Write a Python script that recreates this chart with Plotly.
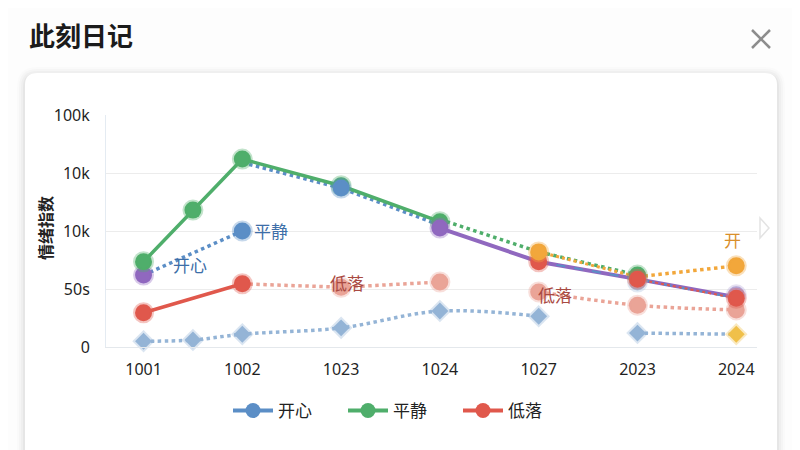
import plotly.graph_objects as go

# ---- data ----
categories = ["1001", "1002", "1023", "1024", "1027", "2023", "2024"]
y_tick_text = ["0", "50s", "10k", "10k", "100k"]

# 平静 (solid green) + dotted tail
calm_x = [0, 0.5, 1, 2, 3]
calm_y = [1.47, 2.36, 3.24, 2.78, 2.16]
calm_tail_x = [3, 4, 5]
calm_tail_y = [2.2, 1.64, 1.24]

# 开心 (blue dotted)
happy_x = [0, 1]
happy_y = [1.24, 2.0]
happy_mid_x = [1, 2, 3]
happy_mid_y = [3.18, 2.74, 2.1]

# purple solid trend
trend_x = [3, 4, 5, 6]
trend_y = [2.05, 1.47, 1.17, 0.86]

# 低落 (red)
low_x = [0, 1]
low_y = [0.59, 1.09]
low_fade_x = [1, 2, 3]
low_fade_y = [1.09, 1.03, 1.12]
low_late_x = [4, 5, 6]
low_late_y = [0.95, 0.72, 0.64]
low_trend_x = [4, 5, 6]
low_trend_y = [1.47, 1.17, 0.84]

# orange
warm_x = [4, 5, 6]
warm_y = [1.64, 1.21, 1.40]

# pale blue diamonds
base_x = [0, 0.5, 1, 2, 3, 4]
base_y = [0.1, 0.12, 0.22, 0.33, 0.62, 0.53]
base_late_x = [5, 6]
base_late_y = [0.24, 0.22]

GREEN = "#4fae6b"
BLUE = "#5b8ec6"
RED = "#e0584c"
PURPLE = "#9068bf"
ORANGE = "#f2a73b"
PINK = "#eaa497"
PALE = "#94b4d6"
FONT = "Noto Sans, Noto Sans CJK SC, sans-serif"

# page has an 8px body margin, so draw everything 8px up/left
OFF = 8
# plot area in window pixels
L, R, T, B = 106, 757, 115, 347
W, H = R - L, B - T


def px(x):
    return (x - L) / W


def py(y):
    return (B - y) / H


def rrect(x0, y0, x1, y1, r):
    # rounded rectangle path in paper coords, pixel inputs
    pts = [
        f"M {px(x0 + r)},{py(y0)}",
        f"L {px(x1 - r)},{py(y0)}",
        f"Q {px(x1)},{py(y0)} {px(x1)},{py(y0 + r)}",
        f"L {px(x1)},{py(y1 - r)}",
        f"Q {px(x1)},{py(y1)} {px(x1 - r)},{py(y1)}",
        f"L {px(x0 + r)},{py(y1)}",
        f"Q {px(x0)},{py(y1)} {px(x0)},{py(y1 - r)}",
        f"L {px(x0)},{py(y0 + r)}",
        f"Q {px(x0)},{py(y0)} {px(x0 + r)},{py(y0)} Z",
    ]
    return " ".join(pts)


def halo(c):
    c = c.lstrip("#")
    r, g, b = int(c[0:2], 16), int(c[2:4], 16), int(c[4:6], 16)
    return f"rgba({r},{g},{b},0.35)"


def mk(color, size=17, symbol="circle"):
    if isinstance(color, list):
        return dict(color=color, size=size, symbol=symbol,
                    line=dict(color=[halo(c) for c in color], width=4))
    return dict(color=color, size=size, symbol=symbol,
                line=dict(color=halo(color), width=4))


fig = go.Figure()

def add(x, y, color, dash="solid", width=3.5, mode="lines", marker=None, shape="linear"):
    fig.add_trace(go.Scatter(
        x=x, y=y, mode=mode, showlegend=False, hoverinfo="skip",
        line=dict(color=color, width=width, dash=dash, shape=shape),
        marker=marker, cliponaxis=False,
    ))

# lines
add(base_x, base_y, PALE, dash="dot", shape="spline")
add(base_late_x, base_late_y, PALE, dash="dot")
add(low_fade_x, low_fade_y, PINK, dash="dot")
add(low_late_x, low_late_y, PINK, dash="dot", shape="spline")
add(happy_x, happy_y, BLUE, dash="dot", shape="spline")
add(happy_mid_x, happy_mid_y, BLUE, dash="dot")
add(calm_tail_x, calm_tail_y, GREEN, dash="dot")
add(trend_x, trend_y, PURPLE, width=4)
add(low_trend_x, low_trend_y, BLUE, dash="dash", width=2)
add(low_trend_x[1:], low_trend_y[1:], RED, dash="dot", width=2)
add(warm_x[:2], warm_y[:2], ORANGE, dash="dot", width=3)
add(warm_x[1:], warm_y[1:], ORANGE, dash="dot", shape="spline")
add(calm_x, calm_y, GREEN, width=3.5)
add(low_x, low_y, RED, width=3.5)

# markers
add(base_x, base_y, PALE, mode="markers", marker=mk(PALE, 13, "diamond"))
add(base_late_x, base_late_y, PALE, mode="markers",
    marker=mk([PALE, "#f0c04a"], 13, "diamond"))
add(low_fade_x[1:], low_fade_y[1:], PINK, mode="markers", marker=mk(PINK))
add(low_late_x, low_late_y, PINK, mode="markers", marker=mk(PINK))
add(happy_x, happy_y, BLUE, mode="markers", marker=mk([PURPLE, BLUE]))
add([5, 6], [1.12, 0.9], PALE, mode="markers", marker=mk(["#a8bfdc", "#b4a6d6"]))
add(calm_x, calm_y, GREEN, mode="markers", marker=mk(GREEN))
add([2], [2.74], BLUE, mode="markers", marker=mk(BLUE))
add([5], [1.24], GREEN, mode="markers", marker=mk(GREEN))
add([3], [2.05], PURPLE, mode="markers", marker=mk(PURPLE))
add(low_trend_x, low_trend_y, RED, mode="markers", marker=mk(RED))
add(low_x, low_y, RED, mode="markers", marker=mk(RED))
add([warm_x[0], warm_x[2]], [warm_y[0], warm_y[2]], ORANGE, mode="markers", marker=mk(ORANGE))

# legend entries
for name, color in [("开心", BLUE), ("平静", GREEN), ("低落", RED)]:
    fig.add_trace(go.Scatter(
        x=[None], y=[None], mode="lines+markers", name=name,
        line=dict(color=color, width=4), marker=dict(color=color, size=15),
    ))

# card, shadow, close icon, arrow
shapes = []
for i, a in enumerate([0.012, 0.018, 0.025, 0.035]):
    g = 8 - 2 * i
    shapes.append(dict(type="path", xref="paper", yref="paper", layer="below",
                       path=rrect(25 - g, 73 - g + 2, 777 + g, 480 + g, 12 + g),
                       fillcolor=f"rgba(0,0,0,{a})", line=dict(width=0)))
shapes.append(dict(type="path", xref="paper", yref="paper", layer="below",
                   path=rrect(25, 73, 777, 480, 12), fillcolor="white", line=dict(width=0)))
for (a, b, c, d) in [(752, 30, 770, 48), (752, 48, 770, 30)]:
    shapes.append(dict(type="line", xref="paper", yref="paper",
                       x0=px(a), y0=py(b), x1=px(c), y1=py(d),
                       line=dict(color="#8d8d8d", width=2.5)))
shapes.append(dict(type="path", xref="paper", yref="paper",
                   path=f"M {px(760)},{py(218)} L {px(769)},{py(228)} L {px(760)},{py(238)} Z",
                   fillcolor="rgba(0,0,0,0)", line=dict(color="#e3e3e3", width=1.5)))

annotations = [
    dict(text="<b>此刻日记</b>", xref="paper", yref="paper", x=px(27), y=py(36),
         xanchor="left", yanchor="middle", showarrow=False,
         font=dict(size=26, color="#1b1b1b", family=FONT)),
    dict(text="<b>情绪指数</b>", xref="paper", yref="paper", x=px(46), y=py(228),
         xanchor="center", yanchor="middle",
         textangle=-90, showarrow=False, font=dict(size=16, color="#222", family=FONT)),
    dict(text="开心", x=0.47, y=1.41, showarrow=False,
         font=dict(size=17, color="#3d6ea8", family=FONT)),
    dict(text="平静", x=1, y=2.0, xanchor="left", xshift=10, showarrow=False,
         font=dict(size=17, color="#3d6ea8", family=FONT)),
    dict(text="低落", x=2, y=1.1, xshift=6, showarrow=False,
         font=dict(size=17, color="#a94a42", family=FONT)),
    dict(text="低落", x=4, y=0.88, xshift=16, showarrow=False,
         font=dict(size=17, color="#a94a42", family=FONT)),
    dict(text="开", x=6, y=1.84, xshift=-4, showarrow=False,
         font=dict(size=17, color="#d98f2b", family=FONT)),
]

fig.update_layout(
    width=800, height=450,
    margin=dict(l=L - OFF, r=800 - R + OFF, t=T - OFF, b=450 - B + OFF),
    paper_bgcolor="#fdfdfd", plot_bgcolor="rgba(0,0,0,0)",
    font=dict(family=FONT, color="#1f1f1f", size=16),
    shapes=shapes, annotations=annotations,
    showlegend=True,
    legend=dict(orientation="h", x=px(228), xanchor="left", y=py(411), yanchor="middle",
                font=dict(size=17, color="#222"), bgcolor="rgba(0,0,0,0)",
                itemwidth=40, entrywidth=60),
    xaxis=dict(range=[-0.38, 6.21], tickmode="array", tickvals=list(range(len(categories))),
               ticktext=categories, showgrid=False, zeroline=False,
               showline=True, linecolor="#e4e8ec", linewidth=1,
               ticklabelstandoff=8, tickfont=dict(size=16)),
    yaxis=dict(range=[0, 4], tickmode="array", tickvals=list(range(len(y_tick_text))),
               ticktext=y_tick_text, showgrid=True, gridcolor="#ececec", zeroline=False,
               showline=True, linecolor="#e4ebf2", linewidth=1,
               ticklabelstandoff=12, tickfont=dict(size=16)),
)

fig.write_html("out.html")
